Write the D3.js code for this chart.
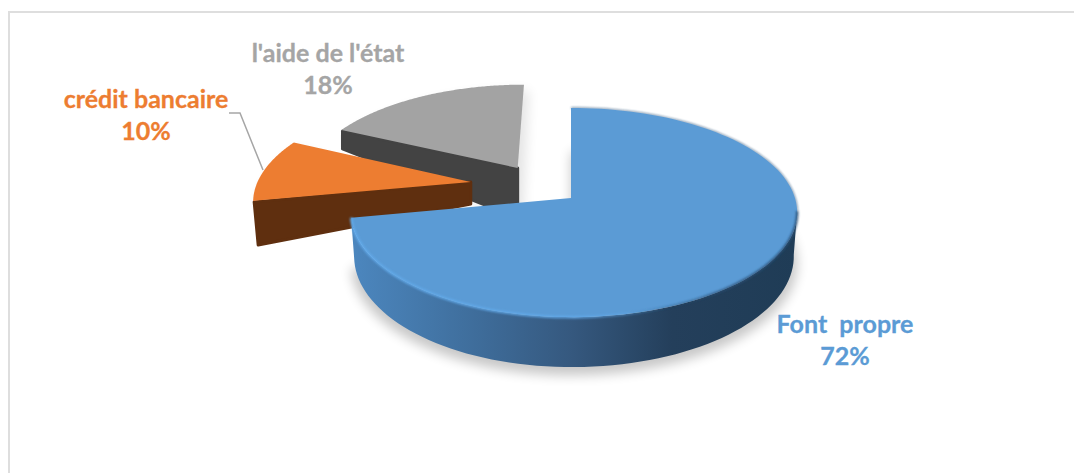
<!DOCTYPE html>
<html>
<head>
<meta charset="utf-8">
<script src="https://d3js.org/d3.v7.min.js"></script>
<style>
  html, body { margin: 0; background: #fff; }
  text { font-family: Lato, "Open Sans", sans-serif; font-weight: 700; }
</style>
</head>
<body>
<div id="chart"></div>
<script>
// values
const categories = ["Font  propre", "crédit bancaire", "l'aide de l'état"];
const values = [72, 10, 18];
const topColors = ["#5b9bd5", "#ed7d31", "#a3a3a3"];
const wallColors = ["#3f6f9c", "#5f2f0f", "#434343"];
const labelColors = ["#5b9bd5", "#ed7d31", "#a5a5a5"];

const width = 1074;
const height = 473;

// pie plane -> screen, a small perspective so the back of the disc is squeezed
const cx = 571, cy = 198, rxRight = 224, rxLeft = 218, ry = 102.6, persp = 0.139;
const project = (u, v) => {
  const w = 1 + persp * v;
  return [cx + ((u < 0 ? rxLeft : rxRight) * u) / w, cy - (ry * v) / w];
};

// how far each slice is pulled out, in pie radii, and how deep its wall is
const explode = [[0, 0], [-0.47, 0.159], [-0.255, 0.305]];
const rimDepth = [43, 45, 20];
const apexDepth = [43, 23, 51];

const svg = d3.select("#chart").append("svg")
  .attr("width", width)
  .attr("height", height)
  .style("display", "block");

const defs = svg.append("defs");
const blur = (id, dev) => defs.append("filter").attr("id", id)
  .attr("x", "-20%").attr("y", "-20%")
  .attr("width", "140%").attr("height", "140%")
  .append("feGaussianBlur").attr("stdDeviation", dev);
blur("soft", 6);
blur("edge", 1);

const gradient = (id, stops) => {
  const grad = defs.append("linearGradient")
    .attr("id", id)
    .attr("gradientUnits", "userSpaceOnUse")
    .attr("x1", 350).attr("x2", 797).attr("y1", 0).attr("y2", 0);
  stops.forEach(([o, c, a]) => grad.append("stop")
    .attr("offset", o)
    .attr("stop-color", c)
    .attr("stop-opacity", a));
};
gradient("blue-wall", [[0, "#4c87bf", 1], [0.25, "#40709f", 1], [0.5, "#35587e", 1], [0.72, "#243f5b", 1], [1, "#1f3c56", 1]]);
gradient("rim-light", [[0, "#62aaea", 1], [0.5, "#62aaea", 0.9], [0.72, "#62aaea", 0]]);
gradient("rim-dark", [[0.62, "#1f3c56", 0], [0.85, "#2a4f75", 0.8], [1, "#2a4f75", 0.9]]);

// chart frame, it runs off the right and bottom of the picture
svg.append("rect")
  .attr("x", 9).attr("y", 12)
  .attr("width", 1080).attr("height", 480)
  .attr("fill", "#fff")
  .attr("stroke", "#dedede")
  .attr("stroke-width", 2);

const pie = d3.pie().sort(null).value((d) => d);
const arcs = pie(values);

const line = d3.line();

// outer edge of a slice sampled along its angle range
const rimPoints = (a, i, depth = 0, scale = 1) => {
  const steps = d3.range(0, 121).map((s) => a.startAngle + ((a.endAngle - a.startAngle) * s) / 120);
  return steps.map((t) => {
    const v = Math.cos(t) + explode[i][1];
    const [x, y] = project(Math.sin(t) + explode[i][0], v);
    return [cx + (x - cx) * scale, y + depth / (1 + persp * v)];
  });
};
const apex = (i) => project(explode[i][0], explode[i][1]);

const g = svg.append("g");

// drop shadow under the big slice
const blue = arcs[0];
g.append("path")
  .attr("d", line(rimPoints(blue, 0, 50).concat([[cx, cy + 20]])) + "Z")
  .attr("fill", "#000")
  .attr("opacity", 0.22)
  .attr("filter", "url(#soft)");

// back slices first, big one last
[2, 1].forEach((i) => {
  const rim = rimPoints(arcs[i], i);
  const tip = apex(i);
  // the visible wall is the radial face running out to the slice's left end
  const outer = rim[0];
  const gr = g.append("g").attr("class", "slice");
  gr.append("path")
    .attr("d", line(rim.concat([[tip[0], tip[1] + apexDepth[i]]])) + "Z")
    .attr("fill", "#000")
    .attr("opacity", 0.1)
    .attr("transform", "translate(5,6)")
    .attr("filter", "url(#soft)");
  gr.append("path")
    .attr("d", line([
      [outer[0] + 1, outer[1] + 1],
      tip,
      [tip[0], tip[1] + apexDepth[i] - 1],
      [outer[0] + (i === 1 ? 5 : 1), outer[1] + rimDepth[i] - 1],
    ]) + "Z")
    .attr("fill", wallColors[i])
    .attr("stroke", wallColors[i])
    .attr("stroke-width", 3)
    .attr("stroke-linejoin", "round");
  gr.append("path")
    .attr("d", line(rim.concat([tip])) + "Z")
    .attr("fill", topColors[i]);
});

// big slice: wall, top, bevelled rim
const topRim = rimPoints(blue, 0);
const lowRim = rimPoints(blue, 0, rimDepth[0], 0.985);
const rightmost = d3.greatestIndex(topRim, (p) => p[0]);
g.append("path")
  .attr("d", line(topRim.slice(rightmost).concat(lowRim.slice(rightmost).reverse())) + "Z")
  .attr("fill", "url(#blue-wall)");
// dark radial edge at twelve o'clock
g.append("path")
  .attr("d", line([apex(0), topRim[0]]))
  .attr("stroke", "#1f3c56")
  .attr("stroke-width", 2)
  .attr("filter", "url(#edge)");
g.append("path")
  .attr("d", line(topRim.slice(0, rightmost + 1)))
  .attr("fill", "none")
  .attr("stroke", "#2a4f75")
  .attr("stroke-width", 1.5)
  .attr("opacity", 0.7)
  .attr("filter", "url(#edge)");
g.append("path")
  .attr("d", line(topRim.concat([apex(0)])) + "Z")
  .attr("fill", topColors[0]);
g.append("path")
  .attr("d", line(topRim.slice(rightmost)))
  .attr("fill", "none")
  .attr("stroke", "url(#rim-dark)")
  .attr("stroke-width", 2.5)
  .attr("filter", "url(#edge)");
g.append("path")
  .attr("d", line(topRim.slice(rightmost)))
  .attr("fill", "none")
  .attr("stroke", "url(#rim-light)")
  .attr("stroke-width", 2.5)
  .attr("filter", "url(#edge)");

// leader line for the orange slice
svg.append("path")
  .attr("d", line([[229, 113], [240, 113], [263, 170]]))
  .attr("fill", "none")
  .attr("stroke", "#a6a6a6")
  .attr("stroke-width", 1.5);

// labels
const labelX = [845, 146, 328];
const labelY = [333, 108, 62];
const labels = svg.append("g")
  .attr("text-anchor", "middle")
  .attr("font-size", 25);
categories.forEach((c, i) => {
  const t = labels.append("text")
    .attr("x", labelX[i])
    .attr("y", labelY[i])
    .attr("fill", labelColors[i])
    .attr("stroke", labelColors[i])
    .attr("stroke-width", 0.3);
  t.append("tspan").style("white-space", "pre").text(c);
  t.append("tspan").attr("x", labelX[i]).attr("dy", 32).text(`${values[i]}%`);
});
</script>
</body>
</html>
